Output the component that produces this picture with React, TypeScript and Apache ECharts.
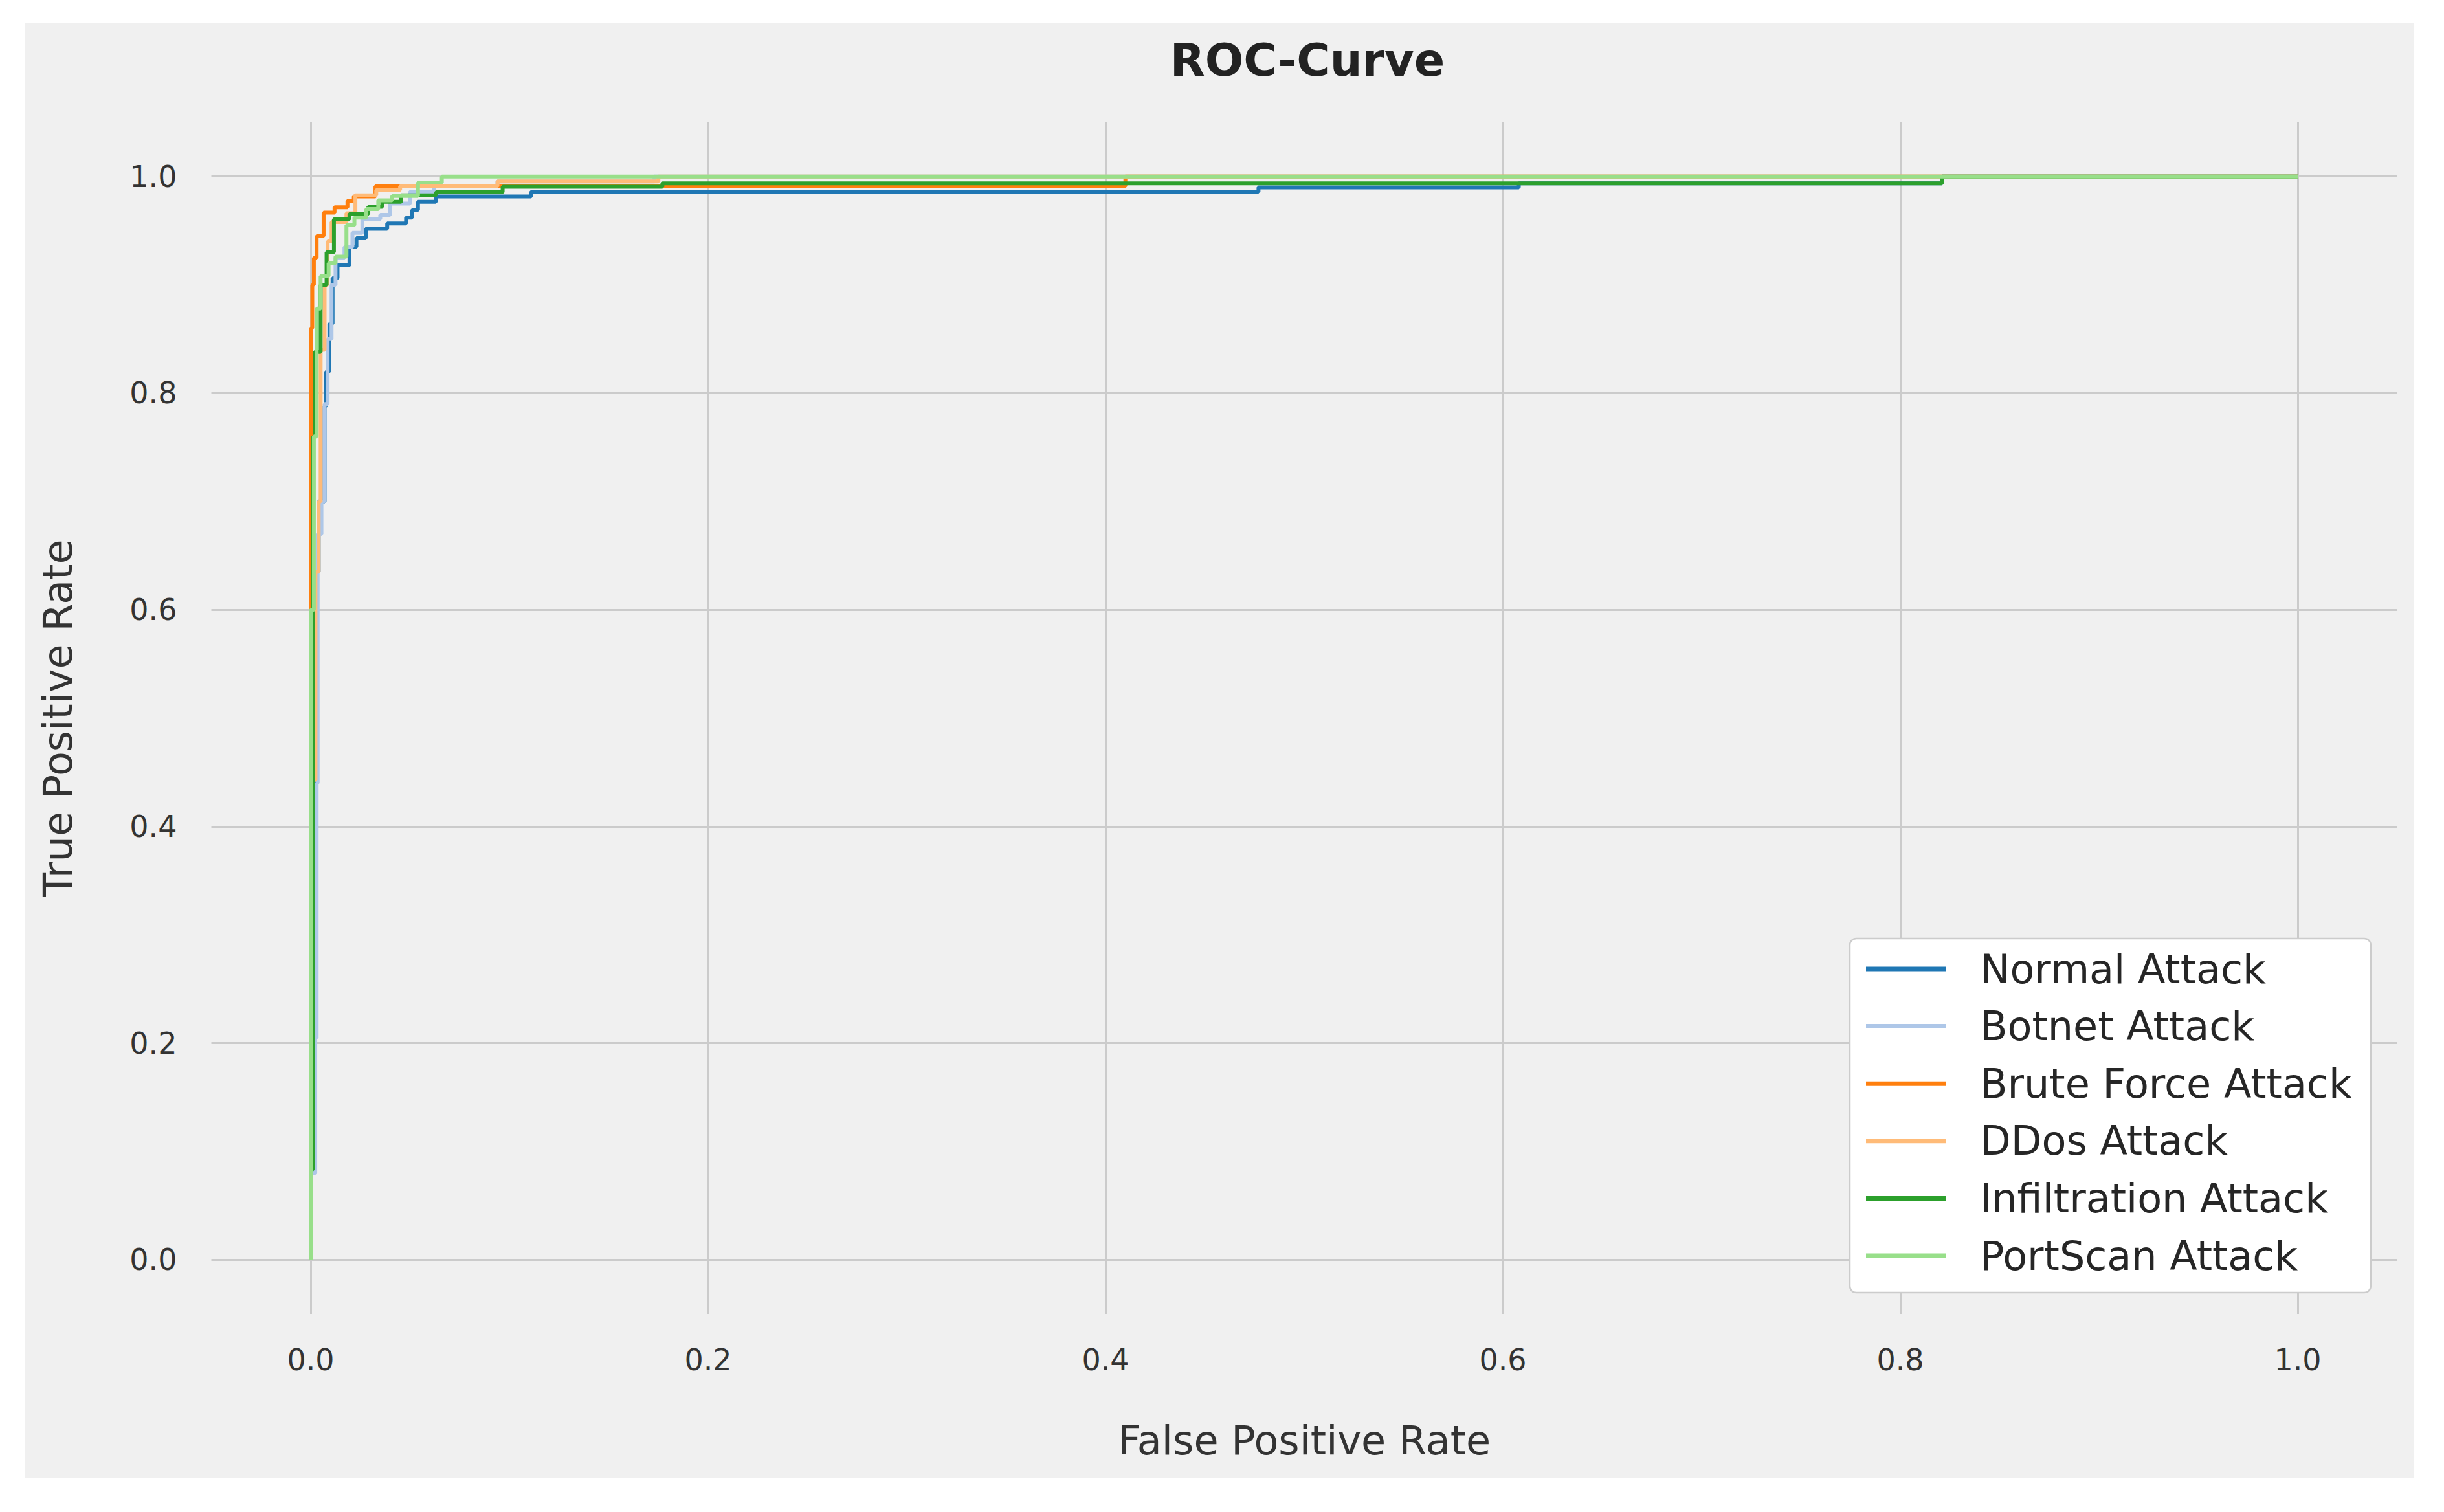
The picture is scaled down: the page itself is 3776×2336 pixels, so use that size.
import React, { useEffect, useRef } from "react";
import * as echarts from "echarts";

const seriesNames = [
  "Normal Attack",
  "Botnet Attack",
  "Brute Force Attack",
  "DDos Attack",
  "Infiltration Attack",
  "PortScan Attack",
];
const seriesColors = ["#1f77b4", "#aec7e8", "#ff7f0e", "#ffbb78", "#2ca02c", "#98df8a"];

const xTicks = [0, 0.2, 0.4, 0.6, 0.8, 1.0];
const yTicks = [0, 0.2, 0.4, 0.6, 0.8, 1.0];

const normalFpr = [0, 0, 0.0024, 0.0024, 0.004, 0.004, 0.007, 0.007, 0.0078, 0.0078, 0.0094, 0.0094, 0.011, 0.011, 0.0135, 0.0135, 0.0195, 0.0195, 0.023, 0.023, 0.0277, 0.0277, 0.0385, 0.0385, 0.048, 0.048, 0.051, 0.051, 0.054, 0.054, 0.063, 0.063, 0.111, 0.111, 0.477, 0.477, 0.608, 0.608, 0.821, 0.821, 1];
const normalTpr = [0, 0.3, 0.3, 0.635, 0.635, 0.7, 0.7, 0.788, 0.788, 0.82, 0.82, 0.864, 0.864, 0.906, 0.906, 0.918, 0.918, 0.935, 0.935, 0.943, 0.943, 0.9517, 0.9517, 0.9567, 0.9567, 0.962, 0.962, 0.969, 0.969, 0.9766, 0.9766, 0.9816, 0.9816, 0.986, 0.986, 0.99, 0.99, 0.9937, 0.9937, 1, 1];

const botnetFpr = [0, 0, 0.0023, 0.0023, 0.003, 0.003, 0.0035, 0.0035, 0.0054, 0.0054, 0.007, 0.007, 0.0085, 0.0085, 0.0105, 0.0105, 0.0125, 0.0125, 0.017, 0.017, 0.021, 0.021, 0.026, 0.026, 0.035, 0.035, 0.04, 0.04, 0.05, 0.05, 0.062, 0.062, 0.094, 0.094, 0.173, 0.173, 1];
const botnetTpr = [0, 0.08, 0.08, 0.205, 0.205, 0.44, 0.44, 0.67, 0.67, 0.7, 0.7, 0.79, 0.79, 0.85, 0.85, 0.9, 0.9, 0.925, 0.925, 0.935, 0.935, 0.948, 0.948, 0.9606, 0.9606, 0.9645, 0.9645, 0.975, 0.975, 0.986, 0.986, 0.991, 0.991, 0.9955, 0.9955, 1, 1];

const bruteFpr = [0, 0, 0.0008, 0.0008, 0.0016, 0.0016, 0.003, 0.003, 0.0065, 0.0065, 0.012, 0.012, 0.0185, 0.0185, 0.0217, 0.0217, 0.0326, 0.0326, 0.41, 0.41, 1];
const bruteTpr = [0, 0.86, 0.86, 0.9, 0.9, 0.925, 0.925, 0.945, 0.945, 0.9666, 0.9666, 0.9716, 0.9716, 0.9776, 0.9776, 0.9816, 0.9816, 0.991, 0.991, 1, 1];

const ddosFpr = [0, 0, 0.0012, 0.0012, 0.0024, 0.0024, 0.004, 0.004, 0.005, 0.005, 0.007, 0.007, 0.0085, 0.0085, 0.0105, 0.0105, 0.018, 0.018, 0.0225, 0.0225, 0.033, 0.033, 0.045, 0.045, 0.094, 0.094, 0.175, 0.175, 1];
const ddosTpr = [0, 0.3, 0.3, 0.443, 0.443, 0.635, 0.635, 0.7, 0.7, 0.84, 0.84, 0.9, 0.9, 0.94, 0.94, 0.958, 0.958, 0.966, 0.966, 0.9826, 0.9826, 0.9875, 0.9875, 0.991, 0.991, 0.9955, 0.9955, 1, 1];

const infilFpr = [0, 0, 0.0013, 0.0013, 0.002, 0.002, 0.005, 0.005, 0.008, 0.008, 0.0117, 0.0117, 0.0195, 0.0195, 0.029, 0.029, 0.036, 0.036, 0.0456, 0.0456, 0.063, 0.063, 0.0966, 0.0966, 0.177, 0.177, 0.821, 0.821, 1];
const infilTpr = [0, 0.0835, 0.0835, 0.76, 0.76, 0.838, 0.838, 0.9, 0.9, 0.93, 0.93, 0.9607, 0.9607, 0.9655, 0.9655, 0.972, 0.972, 0.9766, 0.9766, 0.9826, 0.9826, 0.9855, 0.9855, 0.9905, 0.9905, 0.9937, 0.9937, 1, 1];

const portFpr = [0, 0, 0.0016, 0.0016, 0.003, 0.003, 0.005, 0.005, 0.009, 0.009, 0.0125, 0.0125, 0.018, 0.018, 0.022, 0.022, 0.028, 0.028, 0.034, 0.034, 0.041, 0.041, 0.054, 0.054, 0.066, 0.066, 1];
const portTpr = [0, 0.6, 0.6, 0.76, 0.76, 0.878, 0.878, 0.908, 0.908, 0.92, 0.92, 0.926, 0.926, 0.955, 0.955, 0.962, 0.962, 0.97, 0.97, 0.978, 0.978, 0.982, 0.982, 0.9945, 0.9945, 1, 1];

const curves = [
  [normalFpr, normalTpr],
  [botnetFpr, botnetTpr],
  [bruteFpr, bruteTpr],
  [ddosFpr, ddosTpr],
  [infilFpr, infilTpr],
  [portFpr, portTpr],
];

const FONT = "DejaVu Sans";

export default function App() {
  const ref = useRef<HTMLDivElement>(null);
  useEffect(() => {
    const chart = echarts.init(ref.current as HTMLDivElement, null, { renderer: "svg" });
    const lineSeries = curves.map(([fpr, tpr], i) => ({
      name: seriesNames[i],
      type: "line",
      data: fpr.map((x, k) => [x, tpr[k]]),
      showSymbol: false,
      symbol: "none",
      color: seriesColors[i],
      lineStyle: { width: 6, color: seriesColors[i] },
      z: 3,
      silent: true,
      emphasis: { disabled: true },
    }));
    chart.setOption({
      animation: false,
      backgroundColor: "transparent",
      title: {
        text: "ROC-Curve",
        left: 1976,
        top: 17,
        textAlign: "center",
        textStyle: { fontFamily: FONT, fontSize: 70, fontWeight: "bold", color: "#222222" },
      },
      legend: {
        data: seriesNames,
        orient: "vertical",
        left: 2819,
        top: 1414,
        z: 100,
        zlevel: 0,
        icon: "rect",
        itemWidth: 124,
        itemHeight: 7,
        itemGap: 26.6,
        backgroundColor: "#ffffff",
        borderColor: "#cccccc",
        borderWidth: 2.5,
        borderRadius: 10,
        padding: [16, 29, 26, 25],
        selectedMode: false,
        textStyle: {
          fontFamily: FONT,
          fontSize: 62,
          lineHeight: 62,
          color: "#262626",
          padding: [0, 0, 0, 47],
        },
      },
      grid: { left: 287.5, right: 26.5, top: 153, bottom: 254, containLabel: false },
      xAxis: {
        type: "value",
        min: -0.05,
        max: 1.05,
        offset: 8,
        axisLine: { show: false },
        splitLine: { show: false },
        axisTick: { show: true, customValues: xTicks, length: 24, lineStyle: { color: "#333333", width: 2.5 } },
        axisLabel: {
          customValues: xTicks,
          formatter: (v: number) => v.toFixed(1),
          fontFamily: FONT,
          fontSize: 46,
          color: "#333333",
          margin: 40,
        },
        name: "False Positive Rate",
        nameLocation: "middle",
        nameGap: 156,
        nameTextStyle: { fontFamily: FONT, fontSize: 62, color: "#333333" },
      },
      yAxis: {
        type: "value",
        min: -0.05,
        max: 1.05,
        offset: 8,
        axisLine: { show: false },
        splitLine: { show: false },
        axisTick: { show: true, customValues: yTicks, length: 24, lineStyle: { color: "#333333", width: 2.5 } },
        axisLabel: {
          customValues: yTicks,
          formatter: (v: number) => v.toFixed(1),
          fontFamily: FONT,
          fontSize: 46,
          color: "#333333",
          margin: 45,
        },
        name: "True Positive Rate",
        nameLocation: "middle",
        nameGap: 198,
        nameTextStyle: { fontFamily: FONT, fontSize: 62, color: "#333333" },
      },
      series: [
        {
          name: "__grid",
          type: "line",
          data: [],
          z: 1,
          silent: true,
          markLine: {
            silent: true,
            z: 1,
            symbol: ["none", "none"],
            label: { show: false },
            emphasis: { disabled: true },
            lineStyle: { color: "#cbcbcb", width: 3, type: "solid" },
            data: [
              ...xTicks.map((v) => ({ xAxis: v })),
              ...yTicks.map((v) => ({ yAxis: v })),
            ],
          },
        },
        ...lineSeries,
      ],
    });
    return () => chart.dispose();
  }, []);
  return (
    <div style={{ position: "fixed", left: 0, top: 0, width: 3776, height: 2336, background: "#ffffff" }}>
      <div style={{ position: "absolute", left: 39, top: 36, width: 3691, height: 2248, background: "#f0f0f0" }}>
        <div ref={ref} style={{ width: 3691, height: 2248 }} />
      </div>
    </div>
  );
}
